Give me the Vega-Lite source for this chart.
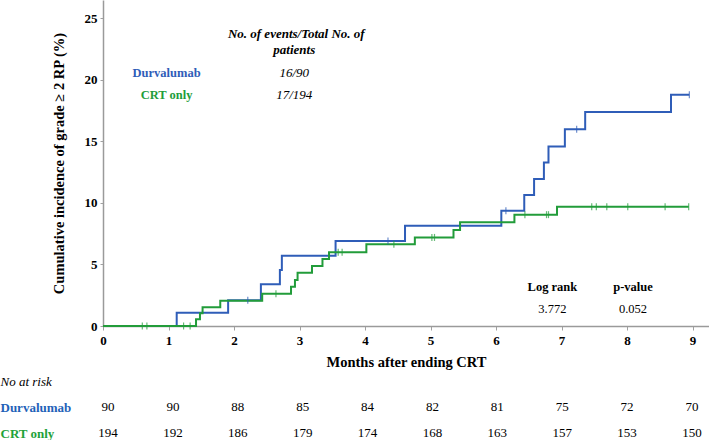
{
  "$schema": "https://vega.github.io/schema/vega-lite/v6.json",
  "padding": 0,
  "background": "white",
  "bounds": "flush",
  "spacing": 55,
  "config": {"view": {"stroke": null}, "font": "Liberation Serif"},
  "resolve": {"scale": {"x": "independent", "y": "independent"}},
  "datasets": {
    "curves": [
      {"group": "Durvalumab", "month": 0, "pct": 0},
      {"group": "Durvalumab", "month": 1.125, "pct": 1.08},
      {"group": "Durvalumab", "month": 1.91, "pct": 2.1},
      {"group": "Durvalumab", "month": 2.41, "pct": 3.39},
      {"group": "Durvalumab", "month": 2.7, "pct": 4.55},
      {"group": "Durvalumab", "month": 2.73, "pct": 5.72},
      {"group": "Durvalumab", "month": 3.55, "pct": 6.9},
      {"group": "Durvalumab", "month": 4.61, "pct": 8.15},
      {"group": "Durvalumab", "month": 6.08, "pct": 9.37},
      {"group": "Durvalumab", "month": 6.43, "pct": 10.65},
      {"group": "Durvalumab", "month": 6.58, "pct": 11.95},
      {"group": "Durvalumab", "month": 6.73, "pct": 13.3},
      {"group": "Durvalumab", "month": 6.8, "pct": 14.6},
      {"group": "Durvalumab", "month": 7.05, "pct": 16.0},
      {"group": "Durvalumab", "month": 7.36, "pct": 17.4},
      {"group": "Durvalumab", "month": 8.67, "pct": 18.8},
      {"group": "Durvalumab", "month": 8.95, "pct": 18.8},
      {"group": "CRT only", "month": 0, "pct": 0},
      {"group": "CRT only", "month": 1.42, "pct": 0.54},
      {"group": "CRT only", "month": 1.48, "pct": 1.03},
      {"group": "CRT only", "month": 1.52, "pct": 1.52},
      {"group": "CRT only", "month": 1.79, "pct": 2.06},
      {"group": "CRT only", "month": 2.43, "pct": 2.63},
      {"group": "CRT only", "month": 2.87, "pct": 3.2},
      {"group": "CRT only", "month": 2.93, "pct": 3.74},
      {"group": "CRT only", "month": 2.97, "pct": 4.33},
      {"group": "CRT only", "month": 3.19, "pct": 4.88},
      {"group": "CRT only", "month": 3.35, "pct": 5.45},
      {"group": "CRT only", "month": 3.45, "pct": 5.99},
      {"group": "CRT only", "month": 4.02, "pct": 6.64},
      {"group": "CRT only", "month": 4.76, "pct": 7.2},
      {"group": "CRT only", "month": 5.35, "pct": 7.8},
      {"group": "CRT only", "month": 5.45, "pct": 8.43},
      {"group": "CRT only", "month": 6.28, "pct": 9.05},
      {"group": "CRT only", "month": 6.93, "pct": 9.7},
      {"group": "CRT only", "month": 8.94, "pct": 9.7}
    ],
    "censors": [
      {"group": "Durvalumab", "month": 2.21, "pct": 2.1},
      {"group": "Durvalumab", "month": 4.35, "pct": 6.9},
      {"group": "Durvalumab", "month": 6.15, "pct": 9.37},
      {"group": "Durvalumab", "month": 7.23, "pct": 16.0},
      {"group": "Durvalumab", "month": 8.95, "pct": 18.8},
      {"group": "CRT only", "month": 0.6, "pct": 0},
      {"group": "CRT only", "month": 0.67, "pct": 0},
      {"group": "CRT only", "month": 1.23, "pct": 0},
      {"group": "CRT only", "month": 1.33, "pct": 0},
      {"group": "CRT only", "month": 2.64, "pct": 2.63},
      {"group": "CRT only", "month": 3.59, "pct": 5.99},
      {"group": "CRT only", "month": 3.65, "pct": 5.99},
      {"group": "CRT only", "month": 4.44, "pct": 6.64},
      {"group": "CRT only", "month": 5.02, "pct": 7.2},
      {"group": "CRT only", "month": 5.06, "pct": 7.2},
      {"group": "CRT only", "month": 6.44, "pct": 9.05},
      {"group": "CRT only", "month": 6.77, "pct": 9.05},
      {"group": "CRT only", "month": 6.8, "pct": 9.05},
      {"group": "CRT only", "month": 7.46, "pct": 9.7},
      {"group": "CRT only", "month": 7.53, "pct": 9.7},
      {"group": "CRT only", "month": 7.69, "pct": 9.7},
      {"group": "CRT only", "month": 8.01, "pct": 9.7},
      {"group": "CRT only", "month": 8.58, "pct": 9.7},
      {"group": "CRT only", "month": 8.94, "pct": 9.7}
    ],
    "notes": [
      {"kind": "header", "month": 2.95, "pct": 23.7, "label": "No. of events/Total No. of"},
      {"kind": "header", "month": 2.92, "pct": 22.4, "label": "patients"},
      {"kind": "name", "month": 0.97, "pct": 20.6, "label": "Durvalumab", "group": "Durvalumab"},
      {"kind": "name", "month": 0.97, "pct": 18.8, "label": "CRT only", "group": "CRT only"},
      {"kind": "count", "month": 2.92, "pct": 20.6, "label": "16/90"},
      {"kind": "count", "month": 2.92, "pct": 18.8, "label": "17/194"},
      {"kind": "lrhead", "month": 6.86, "pct": 3.2, "label": "Log rank"},
      {"kind": "lrhead", "month": 8.09, "pct": 3.2, "label": "p-value"},
      {"kind": "lrval", "month": 6.86, "pct": 1.38, "label": "3.772"},
      {"kind": "lrval", "month": 8.09, "pct": 1.38, "label": "0.052"}
    ],
    "risk": [
      {"group": "Durvalumab", "month": 0, "n": 90},
      {"group": "Durvalumab", "month": 1, "n": 90},
      {"group": "Durvalumab", "month": 2, "n": 88},
      {"group": "Durvalumab", "month": 3, "n": 85},
      {"group": "Durvalumab", "month": 4, "n": 84},
      {"group": "Durvalumab", "month": 5, "n": 82},
      {"group": "Durvalumab", "month": 6, "n": 81},
      {"group": "Durvalumab", "month": 7, "n": 75},
      {"group": "Durvalumab", "month": 8, "n": 72},
      {"group": "Durvalumab", "month": 9, "n": 70},
      {"group": "CRT only", "month": 0, "n": 194},
      {"group": "CRT only", "month": 1, "n": 192},
      {"group": "CRT only", "month": 2, "n": 186},
      {"group": "CRT only", "month": 3, "n": 179},
      {"group": "CRT only", "month": 4, "n": 174},
      {"group": "CRT only", "month": 5, "n": 168},
      {"group": "CRT only", "month": 6, "n": 163},
      {"group": "CRT only", "month": 7, "n": 157},
      {"group": "CRT only", "month": 8, "n": 153},
      {"group": "CRT only", "month": 9, "n": 150}
    ]
  },
  "vconcat": [
    {
      "width": 606,
      "height": 326,
      "encoding": {
        "x": {
          "field": "month", "type": "quantitative",
          "scale": {"domain": [0, 9.25], "nice": false, "zero": false},
          "axis": {
            "title": "Months after ending CRT",
            "values": [0, 1, 2, 3, 4, 5, 6, 7, 8, 9],
            "grid": false,
            "labelFlush": false,
            "labelFont": "Liberation Serif",
            "labelFontSize": 13,
            "labelFontWeight": "bold",
            "labelColor": "black",
            "labelPadding": 4,
            "tickSize": 4,
            "tickColor": "#a0a0a0",
            "domainColor": "#9a9a9a",
            "domainWidth": 1.5,
            "titleFont": "Liberation Serif",
            "titleFontSize": 14.5,
            "titleFontWeight": "bold",
            "titleColor": "black",
            "titlePadding": 8
          }
        },
        "y": {
          "field": "pct", "type": "quantitative",
          "scale": {"domain": [0, 26.5], "nice": false},
          "axis": {
            "title": "Cumulative incidence of grade ≥ 2 RP (%)",
            "values": [0, 5, 10, 15, 20, 25],
            "grid": false,
            "labelFont": "Liberation Serif",
            "labelFontSize": 13,
            "labelFontWeight": "bold",
            "labelColor": "black",
            "labelPadding": 3,
            "tickSize": 3,
            "tickColor": "#a0a0a0",
            "domainColor": "#9a9a9a",
            "domainWidth": 1.5,
            "titleFont": "Liberation Serif",
            "titleFontSize": 14.5,
            "titleFontWeight": "bold",
            "titleColor": "black",
            "titlePadding": 18
          }
        }
      },
      "layer": [
        {
          "data": {"name": "curves"},
          "transform": [{"filter": "datum.group == 'Durvalumab'"}],
          "mark": {"type": "line", "interpolate": "step-after", "strokeWidth": 2},
          "encoding": {
            "color": {"field": "group", "type": "nominal", "scale": {"domain": ["Durvalumab", "CRT only"], "range": ["#2f5db8", "#229c3a"]}, "legend": null}
          }
        },
        {
          "data": {"name": "curves"},
          "transform": [{"filter": "datum.group == 'CRT only'"}],
          "mark": {"type": "line", "interpolate": "step-after", "strokeWidth": 2},
          "encoding": {
            "color": {"field": "group", "type": "nominal", "legend": null}
          }
        },
        {
          "data": {"name": "censors"},
          "mark": {"type": "tick", "orient": "vertical", "size": 7, "thickness": 1.2},
          "encoding": {
            "color": {"field": "group", "type": "nominal", "legend": null}
          }
        },
        {
          "data": {"name": "notes"},
          "transform": [{"filter": "datum.kind == 'header'"}],
          "mark": {"type": "text", "font": "Liberation Serif", "fontSize": 13, "fontWeight": "bold", "fontStyle": "italic", "color": "black", "baseline": "middle"},
          "encoding": {"text": {"field": "label"}}
        },
        {
          "data": {"name": "notes"},
          "transform": [{"filter": "datum.kind == 'name'"}],
          "mark": {"type": "text", "font": "Liberation Serif", "fontSize": 12.5, "fontWeight": "bold", "baseline": "middle"},
          "encoding": {
            "text": {"field": "label"},
            "color": {"field": "group", "type": "nominal", "legend": null}
          }
        },
        {
          "data": {"name": "notes"},
          "transform": [{"filter": "datum.kind == 'count'"}],
          "mark": {"type": "text", "font": "Liberation Serif", "fontSize": 13, "fontStyle": "italic", "color": "black", "baseline": "middle"},
          "encoding": {"text": {"field": "label"}}
        },
        {
          "data": {"name": "notes"},
          "transform": [{"filter": "datum.kind == 'lrhead'"}],
          "mark": {"type": "text", "font": "Liberation Serif", "fontSize": 12.5, "fontWeight": "bold", "color": "black", "baseline": "middle"},
          "encoding": {"text": {"field": "label"}}
        },
        {
          "data": {"name": "notes"},
          "transform": [{"filter": "datum.kind == 'lrval'"}],
          "mark": {"type": "text", "font": "Liberation Serif", "fontSize": 12.5, "color": "black", "baseline": "middle"},
          "encoding": {"text": {"field": "label"}}
        }
      ]
    },
    {
      "width": 606,
      "height": 52,
      "data": {"name": "risk"},
      "mark": {"type": "text", "font": "Liberation Serif", "fontSize": 13, "color": "black", "baseline": "middle"},
      "encoding": {
        "x": {
          "field": "month", "type": "quantitative",
          "scale": {"domain": [-0.077, 9.262], "nice": false, "zero": false},
          "axis": null
        },
        "y": {
          "field": "group", "type": "nominal",
          "scale": {"type": "point", "domain": ["No at risk", "Durvalumab", "CRT only"], "padding": 0},
          "axis": {
            "title": null,
            "domain": false,
            "ticks": false,
            "grid": false,
            "labelAlign": "left",
            "labelPadding": 103,
            "labelFont": "Liberation Serif",
            "labelFontSize": 13,
            "labelColor": {"condition": [{"test": "datum.value == 'Durvalumab'", "value": "#1f62b8"}, {"test": "datum.value == 'CRT only'", "value": "#1ea23a"}], "value": "black"},
            "labelFontWeight": {"condition": {"test": "datum.value == 'No at risk'", "value": "normal"}, "value": "bold"},
            "labelFontStyle": {"condition": {"test": "datum.value == 'No at risk'", "value": "italic"}, "value": "normal"}
          }
        },
        "text": {"field": "n", "type": "quantitative"}
      }
    }
  ]
}
